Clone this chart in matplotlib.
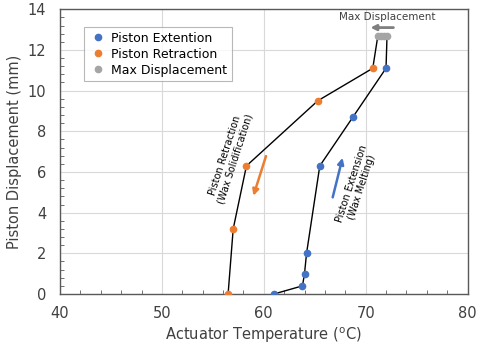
import numpy as np
import matplotlib.pyplot as plt
from matplotlib.ticker import MultipleLocator

# extension (heating) path
ext_temp = [61.0, 63.8, 64.0, 64.2, 65.5, 68.75, 72.0]
ext_disp = [0.0, 0.4, 1.0, 2.0, 6.3, 8.7, 11.1]

# retraction (cooling) path
ret_temp = [70.7, 65.3, 58.3, 57.0, 56.5]
ret_disp = [11.1, 9.5, 6.3, 3.2, 0.0]

# plateau at max displacement
max_temp = [72.1, 71.8, 71.5, 71.2]
max_disp = [12.7, 12.7, 12.7, 12.7]

blue = '#4472C4'
orange = '#ED7D31'
gray = '#A5A5A5'

fig = plt.figure(figsize=(4.8, 3.49), dpi=100)
ax = fig.add_axes([0.125, 0.1576, 0.849, 0.8158])

# black connecting line through the whole cycle
line_t = ext_temp + max_temp + ret_temp
line_d = ext_disp + max_disp + ret_disp
ax.plot(line_t, line_d, color='black', lw=1, zorder=2)

ax.plot(ext_temp, ext_disp, 'o', color=blue, ms=4.5, label='Piston Extention', zorder=3)
ax.plot(ret_temp, ret_disp, 'o', color=orange, ms=4.5, label='Piston Retraction', zorder=3)
ax.plot(max_temp, max_disp, 'o', color=gray, ms=4.5, label='Max Displacement', zorder=3)

ax.set_xlim(40, 80)
ax.set_ylim(0, 14)
ax.xaxis.set_major_locator(MultipleLocator(10))
ax.xaxis.set_minor_locator(MultipleLocator(2))
ax.yaxis.set_major_locator(MultipleLocator(2))
ax.yaxis.set_minor_locator(MultipleLocator(0.4))
ax.grid(True, which='major', color='#d9d9d9', lw=0.8)
ax.set_axisbelow(True)
ax.tick_params(which='both', direction='in', colors='#595959', labelcolor='#404040', labelsize=10.5)
ax.tick_params(axis='x', which='major', length=0, pad=9)
ax.tick_params(axis='y', which='major', length=0, pad=10)
ax.tick_params(which='minor', length=3)
for s in ax.spines.values():
    s.set_color('#595959')
    s.set_linewidth(1)

ax.set_xlabel('Actuator Temperature ($^{\\mathrm{o}}$C)', fontsize=10.5, color='#404040', labelpad=3)
ax.set_ylabel('Piston Displacement (mm)', fontsize=10.5, color='#404040', labelpad=4)

leg = ax.legend(loc='upper left', bbox_to_anchor=(0.06, 0.937), borderaxespad=0,
                fontsize=9, frameon=True, fancybox=False, handletextpad=0.3,
                borderpad=0.35, labelspacing=0.25, handlelength=1.5)
leg.get_frame().set_edgecolor('#a6a6a6')
leg.get_frame().set_linewidth(0.8)

# annotations
ax.annotate('', xy=(70.2, 13.1), xytext=(73.0, 13.1),
            arrowprops=dict(arrowstyle='-|>', color='#7f7f7f', lw=2, mutation_scale=8))
ax.text(72.1, 13.6, 'Max Displacement', ha='center', va='center', fontsize=7.5, color='#404040')

ax.annotate('', xy=(58.9, 4.7), xytext=(60.3, 6.91),
            arrowprops=dict(arrowstyle='-|>', color=orange, lw=1.8, mutation_scale=9))
ax.annotate('', xy=(67.8, 6.83), xytext=(66.7, 4.62),
            arrowprops=dict(arrowstyle='-|>', color=blue, lw=1.8, mutation_scale=9))

ax.text(56.7, 6.75, 'Piston Retraction\n(Wax Solidification)', rotation=72,
        ha='center', va='center', fontsize=7, multialignment='center', linespacing=1.1)
ax.text(69.1, 5.35, 'Piston Extension\n(Wax Melting)', rotation=72,
        ha='center', va='center', fontsize=7, multialignment='center', linespacing=1.1)

fig.savefig('out.png', dpi=100)
